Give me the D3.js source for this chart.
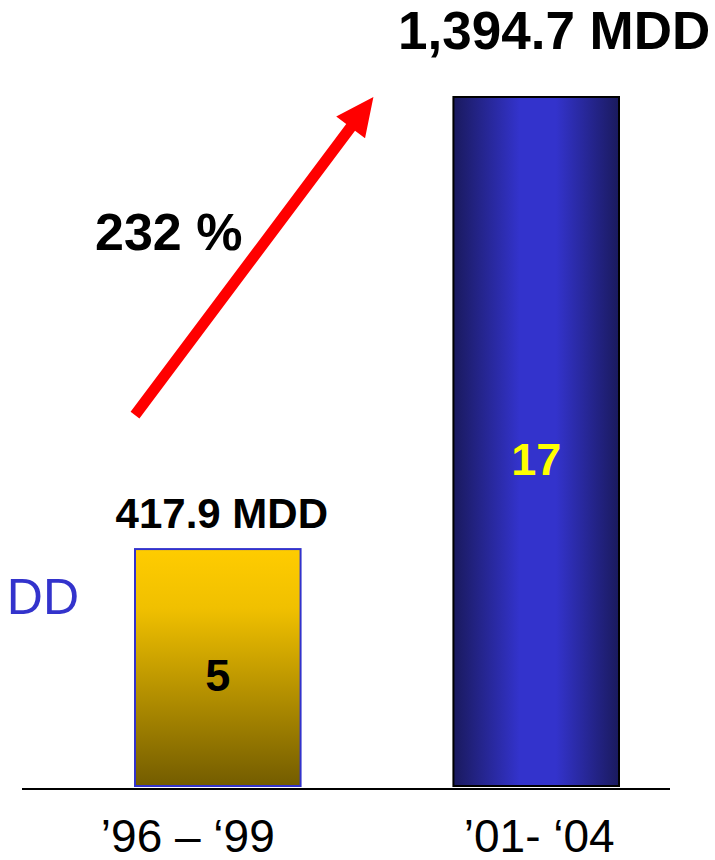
<!DOCTYPE html>
<html><head><meta charset="utf-8">
<script src="https://cdn.jsdelivr.net/npm/d3@7"></script>
<style>html,body{margin:0;padding:0;background:#fff;overflow:hidden}svg{display:block}</style>
</head><body>
<script>
const categories = ["’96 – ‘99", "’01- ‘04"];
const amounts = [417.9, 1394.7];
const amountLabels = ["417.9 MDD", "1,394.7 MDD"];
const counts = ["5", "17"];
const growthLabel = "232 %";
const sideLabel = "DD";

const W = 715, H = 860;
const svg = d3.select("body").append("svg").attr("width", W).attr("height", H)
  .style("font-family", "'Liberation Sans', Arial, sans-serif");

const defs = svg.append("defs");
const g1 = defs.append("linearGradient").attr("id", "gold").attr("x1", 0).attr("y1", 0).attr("x2", 0).attr("y2", 1);
g1.append("stop").attr("offset", "0%").attr("stop-color", "#ffcc00");
g1.append("stop").attr("offset", "25%").attr("stop-color", "#f0c000");
g1.append("stop").attr("offset", "100%").attr("stop-color", "#735c00");
const g2 = defs.append("linearGradient").attr("id", "blue").attr("x1", 0).attr("y1", 0).attr("x2", 1).attr("y2", 0);
g2.append("stop").attr("offset", "0%").attr("stop-color", "#1a1a5e");
g2.append("stop").attr("offset", "40%").attr("stop-color", "#3333cc");
g2.append("stop").attr("offset", "62%").attr("stop-color", "#3333cc");
g2.append("stop").attr("offset", "100%").attr("stop-color", "#1a1a5e");

const x = d3.scaleBand().domain(categories).range([135, 619]).paddingInner(0.48).paddingOuter(0);
const y = d3.scaleLinear().domain([-94, 1394.7]).range([786, 97]);
const base = y.range()[0];

const fills = ["url(#gold)", "url(#blue)"];
const strokes = ["#3333cc", "#000000"];
const countColors = ["#000000", "#ffff00"];
const countFrac = [0.6, 0.548];
const topOffset = [21, 48];
const topDx = [4, 18];
const topSize = [42, 53];
const catDx = [-30, 3];

// side label (clipped in the original)
svg.append("text").attr("x", 79).attr("y", 614).attr("text-anchor", "end")
  .attr("font-size", 50).attr("fill", "#3333cc").text(sideLabel);

// bars
svg.selectAll("rect.bar").data(categories).join("rect").attr("class", "bar")
  .attr("x", d => x(d)).attr("width", x.bandwidth())
  .attr("y", (d, i) => y(amounts[i])).attr("height", (d, i) => base - y(amounts[i]))
  .attr("fill", (d, i) => fills[i]).attr("stroke", (d, i) => strokes[i]).attr("stroke-width", 2);

// axis baseline
svg.append("line").attr("x1", 22).attr("x2", 670).attr("y1", 789).attr("y2", 789)
  .attr("stroke", "#000").attr("stroke-width", 2);

// counts
svg.selectAll("text.count").data(categories).join("text").attr("class", "count")
  .attr("x", d => x(d) + x.bandwidth() / 2)
  .attr("y", (d, i) => y(amounts[i]) + (base - y(amounts[i])) * countFrac[i])
  .attr("text-anchor", "middle").attr("font-weight", "bold").attr("font-size", 45)
  .attr("fill", (d, i) => countColors[i]).text((d, i) => counts[i]);

// amount labels
svg.selectAll("text.amt").data(categories).join("text").attr("class", "amt")
  .attr("x", (d, i) => x(d) + x.bandwidth() / 2 + topDx[i])
  .attr("y", (d, i) => y(amounts[i]) - topOffset[i])
  .attr("text-anchor", "middle").attr("font-weight", "bold")
  .attr("font-size", (d, i) => topSize[i]).attr("fill", "#000").text((d, i) => amountLabels[i]);

// category labels
svg.selectAll("text.cat").data(categories).join("text").attr("class", "cat")
  .attr("x", (d, i) => x(d) + x.bandwidth() / 2 + catDx[i]).attr("y", 852)
  .attr("text-anchor", "middle").attr("font-size", 46).attr("fill", "#000").text(d => d);

// growth arrow
const tail = [x(categories[0]), y(amounts[0]) - 134];
const tip = [x(categories[1]) - 80, y(amounts[1])];
const dx = tip[0] - tail[0], dy = tip[1] - tail[1];
const len = Math.hypot(dx, dy);
const ux = dx / len, uy = dy / len, px = -uy, py = ux;
const headLen = 38, headHalf = 18, shaftHalf = 5.5;
const hb = [tip[0] - ux * headLen, tip[1] - uy * headLen];
const pts = [
  [tail[0] + px * shaftHalf, tail[1] + py * shaftHalf],
  [hb[0] + px * shaftHalf, hb[1] + py * shaftHalf],
  [hb[0] + px * headHalf, hb[1] + py * headHalf],
  tip,
  [hb[0] - px * headHalf, hb[1] - py * headHalf],
  [hb[0] - px * shaftHalf, hb[1] - py * shaftHalf],
  [tail[0] - px * shaftHalf, tail[1] - py * shaftHalf]
];
svg.append("path").attr("d", d3.line()(pts) + "Z").attr("fill", "#ff0000");

svg.append("text").attr("x", 95).attr("y", 250).attr("font-weight", "bold")
  .attr("font-size", 52).attr("fill", "#000").text(growthLabel);
</script>
</body></html>
